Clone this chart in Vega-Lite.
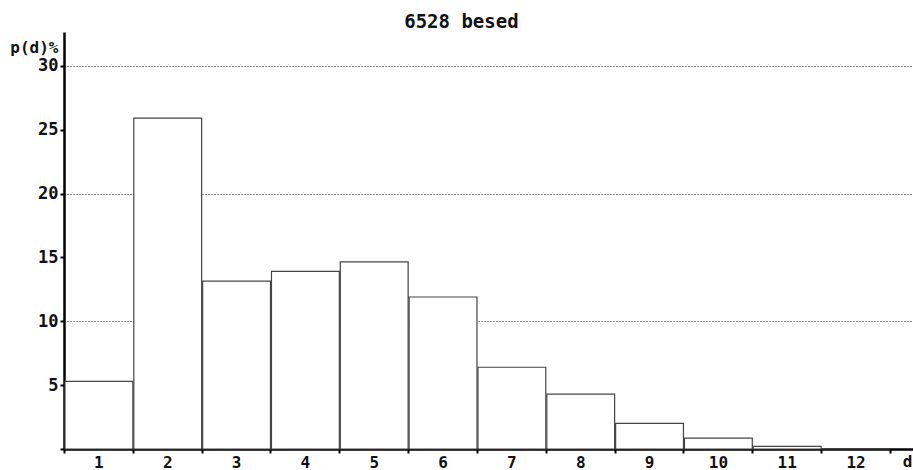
{
  "$schema": "https://vega.github.io/schema/vega-lite/v6.json",
  "width": 849,
  "height": 417,
  "autosize": {"type": "none"},
  "padding": {"left": 64, "top": 32, "right": 0, "bottom": 21},
  "background": "white",
  "title": {
    "text": "6528 besed",
    "anchor": "middle",
    "frame": "bounds",
    "offset": 0,
    "font": "DejaVu Sans Mono",
    "fontWeight": "bold",
    "fontSize": 19,
    "color": "#111"
  },
  "data": {
    "values": [
      {"d": 1, "p": 5.3},
      {"d": 2, "p": 25.9},
      {"d": 3, "p": 13.15},
      {"d": 4, "p": 13.9},
      {"d": 5, "p": 14.65},
      {"d": 6, "p": 11.9},
      {"d": 7, "p": 6.4},
      {"d": 8, "p": 4.3},
      {"d": 9, "p": 2.0},
      {"d": 10, "p": 0.85},
      {"d": 11, "p": 0.2},
      {"d": 12, "p": 0}
    ]
  },
  "mark": {"type": "bar", "fill": "white", "stroke": "#444", "strokeWidth": 1.2},
  "encoding": {
    "x": {
      "field": "d",
      "type": "quantitative",
      "bin": {"binned": true, "step": 1},
      "scale": {"domain": [1, 13.335], "nice": false, "zero": false},
      "axis": {
        "values": [1, 1.5, 2, 2.5, 3, 3.5, 4, 4.5, 5, 5.5, 6, 6.5, 7, 7.5, 8, 8.5, 9, 9.5, 10, 10.5, 11, 11.5, 12, 12.5, 13],
        "labelExpr": "datum.value % 1 == 0.5 ? format(datum.value - 0.5, 'd') : ''",
        "labelOverlap": false,
        "labelFlush": false,
        "labelBound": false,
        "grid": false,
        "domainColor": "#000",
        "domainWidth": 2.5,
        "tickColor": "#000",
        "tickWidth": 2,
        "tickSize": 4,
        "tickOpacity": {"condition": {"test": "datum.value % 1 != 0", "value": 0}, "value": 1},
        "labelPadding": 1,
        "labelFont": "DejaVu Sans Mono",
        "labelFontWeight": "bold",
        "labelFontSize": 16,
        "labelColor": "#111",
        "title": "d",
        "titleFont": "DejaVu Sans Mono",
        "titleFontWeight": "bold",
        "titleFontSize": 16,
        "titleColor": "#111",
        "titleAnchor": "end",
        "titleAlign": "right",
        "titleBaseline": "alphabetic",
        "titleX": 848,
        "titleY": 17
      }
    },
    "y": {
      "field": "p",
      "type": "quantitative",
      "scale": {"domain": [0, 32.65], "nice": false},
      "axis": {
        "values": [0, 5, 10, 15, 20, 25, 30],
        "labelExpr": "datum.value == 0 ? '' : datum.label",
        "grid": true,
        "gridDash": [1, 2],
        "gridColor": "#222",
        "gridWidth": 1,
        "gridOpacity": {"condition": {"test": "datum.value % 10 == 0 && datum.value > 0", "value": 1}, "value": 0},
        "domainColor": "#000",
        "domainWidth": 2.5,
        "tickColor": "#000",
        "tickWidth": 2,
        "tickSize": 4,
        "labelPadding": 2,
        "labelFont": "DejaVu Sans Mono",
        "labelFontWeight": "bold",
        "labelFontSize": 17,
        "labelColor": "#111",
        "title": "p(d)%",
        "titleFont": "DejaVu Sans Mono",
        "titleFontWeight": "bold",
        "titleFontSize": 16,
        "titleColor": "#111",
        "titleAngle": 0,
        "titleAlign": "right",
        "titleBaseline": "alphabetic",
        "titleX": -6,
        "titleY": 20
      }
    }
  },
  "config": {"view": {"stroke": null}}
}
